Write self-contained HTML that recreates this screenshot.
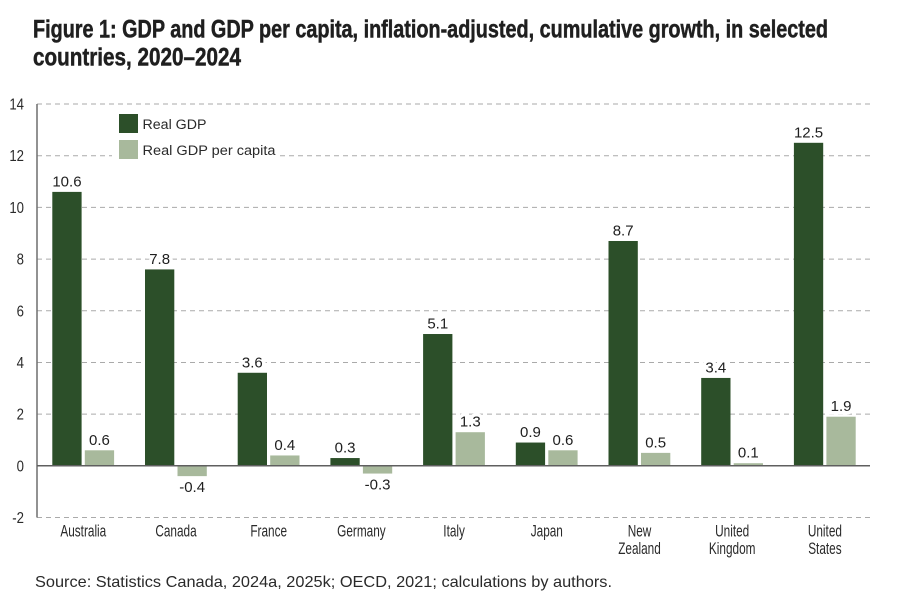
<!DOCTYPE html>
<html lang="en">
<head>
<meta charset="utf-8">
<title>Figure 1: GDP and GDP per capita</title>
<style>
html,body{margin:0;padding:0;background:#fff}
svg{display:block}
text{font-family:"Liberation Sans",sans-serif}
</style>
</head>
<body>
<svg id="chart" width="900" height="601" viewBox="0 0 900 601" xmlns="http://www.w3.org/2000/svg">
  <rect width="900" height="601" fill="#ffffff"/>
  <text x="33" y="37.500" font-size="25" font-weight="700" fill="#1f1f1f" stroke="#1f1f1f" stroke-width="0.5" textLength="795" lengthAdjust="spacingAndGlyphs">Figure 1: GDP and GDP per capita, inflation-adjusted, cumulative growth, in selected</text>
  <text x="33" y="65.500" font-size="25" font-weight="700" fill="#1f1f1f" stroke="#1f1f1f" stroke-width="0.5" textLength="208" lengthAdjust="spacingAndGlyphs">countries, 2020–2024</text>
  <g id="grid"></g>
  <g id="yticks"></g>
  <g id="bars"></g>
  <g id="xlabels"></g>
  <g id="axes"></g>
  <g id="values"></g>
  <g>
    <rect x="112" y="108" width="168" height="54" fill="#ffffff"/>
    <rect x="119" y="114" width="19" height="19" fill="#2c4f29"/>
    <text x="142.500" y="129" font-size="13.500" fill="#2a2a2a" textLength="64" lengthAdjust="spacingAndGlyphs">Real GDP</text>
    <rect x="119" y="140" width="19" height="19" fill="#a8b99c"/>
    <text x="142.500" y="155" font-size="13.500" fill="#2a2a2a" textLength="133" lengthAdjust="spacingAndGlyphs">Real GDP per capita</text>
  </g>
  <text x="35" y="587" font-size="16" fill="#2a2a2a" textLength="577" lengthAdjust="spacingAndGlyphs">Source: Statistics Canada, 2024a, 2025k; OECD, 2021; calculations by authors.</text>
</svg>
<script>
const categories = [["Australia"],["Canada"],["France"],["Germany"],["Italy"],["Japan"],["New","Zealand"],["United","Kingdom"],["United","States"]];
const realGdp = [10.6,7.6,3.6,0.3,5.1,0.9,8.7,3.4,12.5];
const realGdpPerCapita = [0.6,-0.4,0.4,-0.3,1.3,0.6,0.5,0.1,1.9];
const realGdpLabels = ["10.6","7.8","3.6","0.3","5.1","0.9","8.7","3.4","12.5"];
const realGdpPerCapitaLabels = ["0.6","-0.4","0.4","-0.3","1.3","0.6","0.5","0.1","1.9"];
const yTicks = [14,12,10,8,6,4,2,0,-2];

const NS = "http://www.w3.org/2000/svg";
const plotLeft = 37, plotRight = 870, firstBarLeft = 52.3, catStep = 92.7, barW = 29.3, lightOffset = 32.5;
const yZero = 465.8, yUnit = 25.84;
function yPos(v){ return yZero - v * yUnit; }
function darkX(i){ return firstBarLeft + i * catStep; }
function lightX(i){ return darkX(i) + lightOffset; }
function make(parent, tag, attrs, text){
  const el = document.createElementNS(NS, tag);
  for (const k in attrs) el.setAttribute(k, attrs[k]);
  if (text !== undefined) el.textContent = text;
  parent.appendChild(el);
  return el;
}
const grid = document.getElementById("grid");
const yticksG = document.getElementById("yticks");
const barsG = document.getElementById("bars");
const xG = document.getElementById("xlabels");
const axesG = document.getElementById("axes");
const valuesG = document.getElementById("values");

yTicks.forEach(function(t){
  if (t !== 0) {
    const gl = make(grid, "line", {x1:plotLeft, x2:plotRight, y1:yPos(t), y2:yPos(t), stroke:"#aaaaaa", "stroke-width":1, "stroke-dasharray":"5 4"});
    
    
  }
  const lab = make(yticksG, "text", {transform:"translate(24 " + (yPos(t)+5.5) + ") scale(0.85 1)", "text-anchor":"end", "font-size":15.5, fill:"#2a2a2a"}, String(t));
  
  
});

function valueLabel(x, v, txt, barTop){
  const y = v >= 0 ? barTop - 5.5 : yPos(v) + 16;
  const t = make(valuesG, "text", {x:x, y:y, "text-anchor":"middle", "font-size":15, fill:"#1f1f1f", stroke:"#ffffff", "stroke-width":7, "paint-order":"stroke"}, txt);
  
  
}

categories.forEach(function(lines, i){
  const a = realGdp[i], b = realGdpPerCapita[i];
  const r1 = make(barsG, "rect", {x:darkX(i), y:Math.min(yPos(a),yZero), width:barW, height:Math.abs(a)*yUnit, fill:"#2c4f29"});
  
  
  const r2 = make(barsG, "rect", {x:lightX(i), y:Math.min(yPos(b),yZero), width:barW, height:Math.abs(b)*yUnit, fill:"#a8b99c"});
  
  
  valueLabel(darkX(i)+barW/2, a, realGdpLabels[i], yPos(a));
  valueLabel(lightX(i)+barW/2, b, realGdpPerCapitaLabels[i], yPos(b));
  const cx = darkX(i) + 31;
  lines.forEach(function(line, j){
    const t = make(xG, "text", {transform:"translate(" + cx + " " + (536.5+j*17.3) + ") scale(0.72 1)", "text-anchor":"middle", "font-size":16.4, fill:"#2a2a2a"}, line);
    
    
  });
});

const yAxis = make(axesG, "line", {x1:plotLeft, x2:plotLeft, y1:yPos(14), y2:yPos(-2), stroke:"#6e6e6e", "stroke-width":1.5});


const zero = make(axesG, "line", {x1:plotLeft, x2:plotRight, y1:yZero, y2:yZero, stroke:"#5f5f5f", "stroke-width":1.5});


</script>
</body>
</html>
